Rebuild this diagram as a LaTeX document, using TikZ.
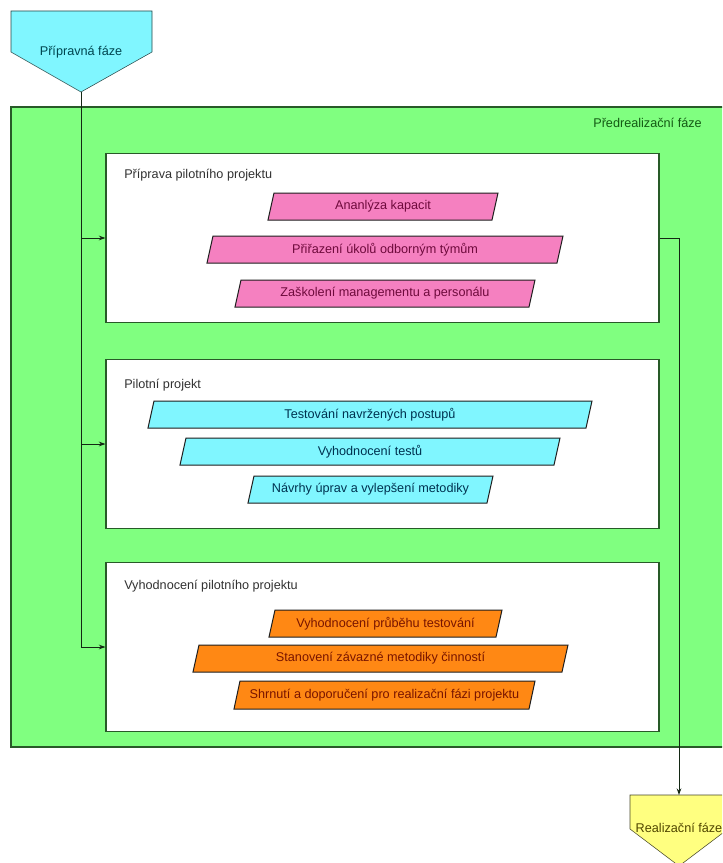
\documentclass[tikz,border=0pt]{standalone}
\usepackage{fontspec}
\setmainfont{Liberation Sans}
\usetikzlibrary{arrows.meta}

\definecolor{zelena}{RGB}{128,255,128}
\definecolor{tmzelena}{RGB}{40,90,40}
\definecolor{ruzova}{RGB}{245,128,192}
\definecolor{modra}{RGB}{128,246,255}
\definecolor{oranz}{RGB}{255,136,20}
\definecolor{zluta}{RGB}{255,255,128}

\begin{document}
\begin{tikzpicture}[x=0.75pt,y=0.75pt,yscale=-1,xscale=1,
  every node/.style={font=\fontsize{9.5}{11}\selectfont,inner sep=0.75pt},
  wbox/.style={draw=tmzelena,fill=white,line width=0.8pt,minimum width=414.75pt,minimum height=127pt},
  para/.style={draw={rgb,255:red,30;green,30;blue,30},line width=0.75pt},
  sipka/.style={-{Stealth[length=5pt,width=3.5pt]},line width=0.75pt,draw={rgb,255:red,20;green,40;blue,20}}]
\useasboundingbox (0,0) rectangle (722,863);
\clip (0,0) rectangle (722,863);

% faze
\draw [draw=tmzelena,fill=zelena,line width=0.8pt] (11,107) rectangle (740,747) ;
\draw [draw={rgb,255:red,40;green,70;blue,70},fill=modra] (11,11) -- (152,11) -- (152,52) -- (81,92) -- (11,52) -- cycle ;
\draw [draw={rgb,255:red,70;green,70;blue,40},fill=zluta] (630,795) -- (728,795) -- (728,829) -- (679,866) -- (630,829) -- cycle ;
\node (pf) at (81,52) [text={rgb,255:red,0;green,70;blue,80}] {Přípravná fáze};
\node (rf) at (679,828) [text={rgb,255:red,80;green,70;blue,0}] {Realizační fáze};
\node (pr) at (703,123) [anchor=east,text={rgb,255:red,20;green,90;blue,20}] {Předrealizační fáze};
\coordinate (pfhrot) at (81,92);
\coordinate (rfvrch) at (679,795);

% bloky
\node (b1) at (382.5,238) [wbox] {};
\node (b2) at (382.5,444) [wbox] {};
\node (b3) at (382.5,647) [wbox] {};
\node (t1) at (123,175) [anchor=west,text={rgb,255:red,50;green,50;blue,50}] {Příprava pilotního projektu};
\node (t2) at (123,385) [anchor=west,text={rgb,255:red,50;green,50;blue,50}] {Pilotní projekt};
\node (t3) at (123,586) [anchor=west,text={rgb,255:red,50;green,50;blue,50}] {Vyhodnocení pilotního projektu};

% priprava
\draw [para,fill=ruzova] (268,220) -- (274,193) -- (498,193) -- (492,220) -- cycle ;
\draw [para,fill=ruzova] (207,263) -- (213,236) -- (563,236) -- (557,263) -- cycle ;
\draw [para,fill=ruzova] (235,307) -- (241,280) -- (535,280) -- (529,307) -- cycle ;
\node (ak) at (383,206.5) [text={rgb,255:red,110;green,10;blue,60}] {Ananlýza kapacit};
\node (pu) at (385,249.5) [text={rgb,255:red,110;green,10;blue,60}] {Přiřazení úkolů odborným týmům};
\node (zm) at (385,293.5) [text={rgb,255:red,110;green,10;blue,60}] {Zaškolení managementu a personálu};

% pilotni projekt
\draw [para,fill=modra] (148,428) -- (154,401) -- (592,401) -- (586,428) -- cycle ;
\draw [para,fill=modra] (180,465) -- (186,438) -- (560,438) -- (554,465) -- cycle ;
\draw [para,fill=modra] (248,503) -- (254,476) -- (493,476) -- (487,503) -- cycle ;
\node (tn) at (370,414.5) [text={rgb,255:red,0;green,50;blue,80}] {Testování navržených postupů};
\node (vt) at (370,451.5) [text={rgb,255:red,0;green,50;blue,80}] {Vyhodnocení testů};
\node (nu) at (370.5,489.5) [text={rgb,255:red,0;green,50;blue,80}] {Návrhy úprav a vylepšení metodiky};

% vyhodnoceni
\draw [para,fill=oranz] (269,637) -- (275,610) -- (502,610) -- (496,637) -- cycle ;
\draw [para,fill=oranz] (193,672) -- (199,645) -- (568,645) -- (562,672) -- cycle ;
\draw [para,fill=oranz] (234,709) -- (240,681) -- (535,681) -- (529,709) -- cycle ;
\node (vp) at (385.5,623.5) [text={rgb,255:red,120;green,20;blue,0}] {Vyhodnocení průběhu testování};
\node (sz) at (380.5,658.5) [text={rgb,255:red,120;green,20;blue,0}] {Stanovení závazné metodiky činností};
\node (sd) at (384.5,695) [text={rgb,255:red,120;green,20;blue,0}] {Shrnutí a doporučení pro realizační fázi projektu};

% spojnice
\draw [sipka] (pfhrot) |- (b1.west) ;
\draw [sipka] (pfhrot) |- (b2.west) ;
\draw [sipka] (pfhrot) |- (b3.west) ;
\draw [sipka] (b1.east) -| (rfvrch) ;
\end{tikzpicture}
\end{document}
